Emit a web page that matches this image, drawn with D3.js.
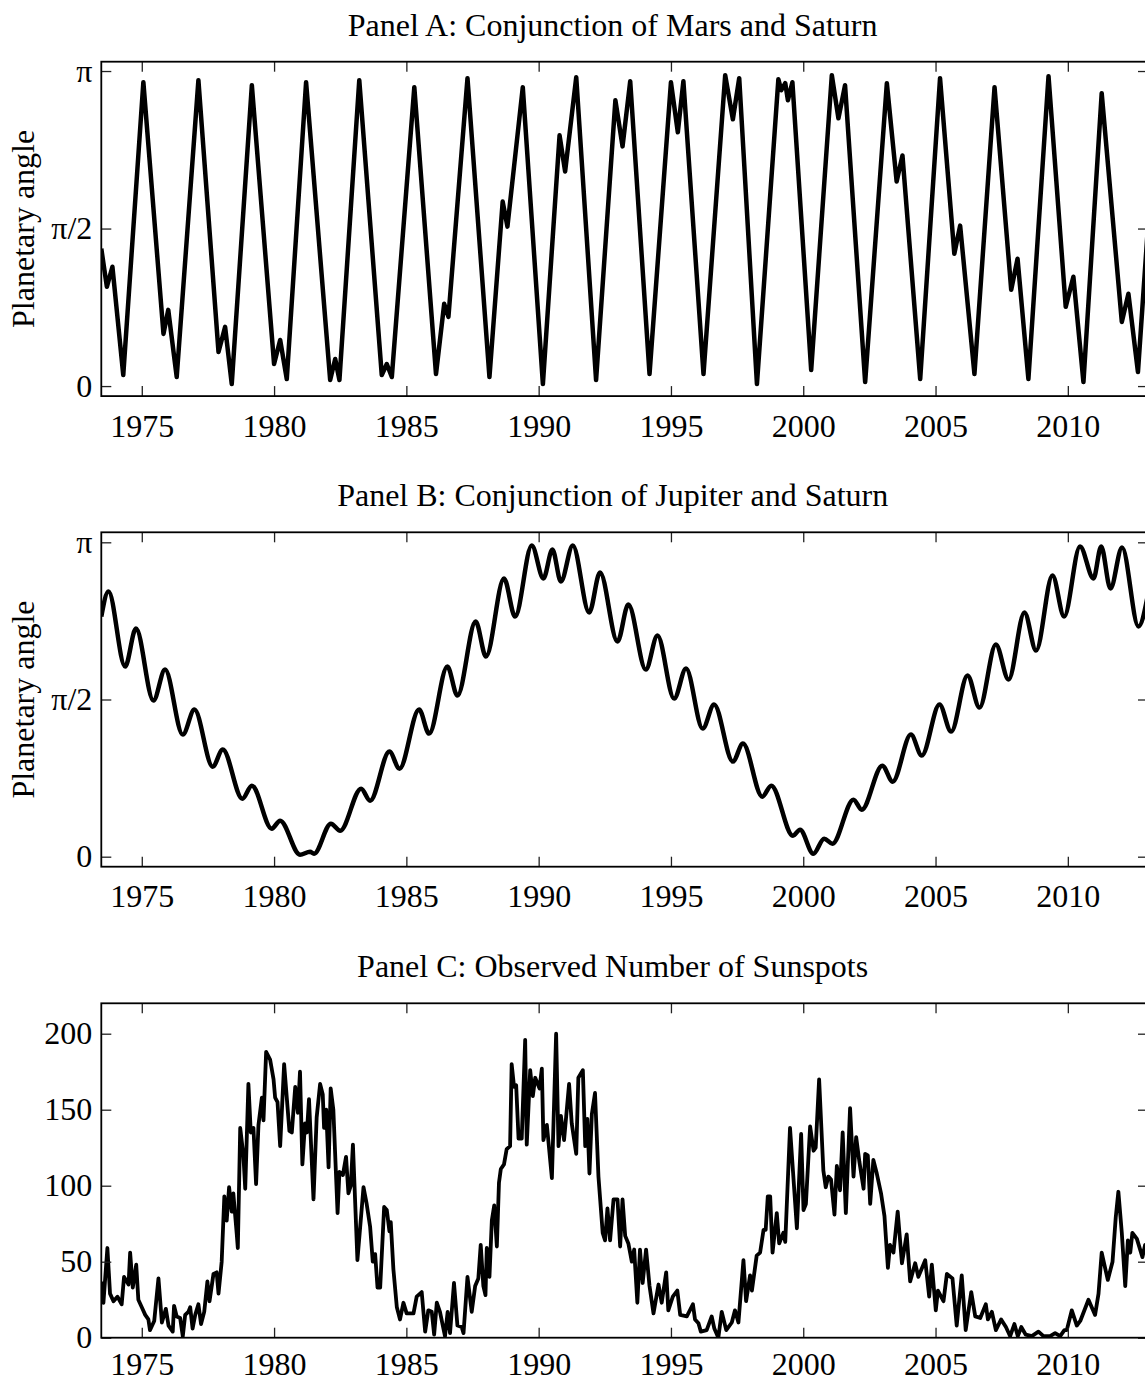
<!DOCTYPE html>
<html>
<head>
<meta charset="utf-8">
<script src="https://cdn.jsdelivr.net/npm/d3@7"></script>
<style>
  body { margin: 0; background: #fff; }
  svg { display: block; font-family: "Liberation Serif", "Times New Roman", serif; }
  .axis text { font-size: 32px; fill: #000; }
  .axis line { stroke: #222; stroke-width: 1.3; }
  .title, .ylabel { font-size: 32px; fill: #000; }
</style>
</head>
<body>
<svg></svg>
<script>
const width = 1145;
const height = 1383;

// ticks / labels
const yearTicks = [1975, 1980, 1985, 1990, 1995, 2000, 2005, 2010];
const angleTicks = [0, Math.PI / 2, Math.PI];
const angleTickLabels = ['0', 'π/2', 'π'];
const sunspotTicks = [0, 50, 100, 150, 200];
const panelTitles = [
  'Panel A: Conjunction of Mars and Saturn',
  'Panel B: Conjunction of Jupiter and Saturn',
  'Panel C: Observed Number of Sunspots'
];
const angleTitle = 'Planetary angle';

// [year, angle in radians]
const marsSaturn = [
  [1973.47, 1.37], [1973.68, 0.99], [1973.89, 1.19], [1974.30, 0.11], [1975.06, 3.03],
  [1975.82, 0.52], [1976.00, 0.76], [1976.32, 0.09], [1977.14, 3.05], [1977.90, 0.34],
  [1978.15, 0.59], [1978.40, 0.02], [1979.16, 3.00], [1980.00, 0.22], [1980.23, 0.46],
  [1980.48, 0.07], [1981.21, 3.03], [1982.12, 0.06], [1982.31, 0.27], [1982.47, 0.06],
  [1983.22, 3.05], [1984.07, 0.11], [1984.26, 0.22], [1984.45, 0.09], [1985.30, 2.98],
  [1986.12, 0.12], [1986.43, 0.82], [1986.59, 0.69], [1987.31, 3.07], [1988.14, 0.09],
  [1988.64, 1.84], [1988.82, 1.59], [1989.40, 2.98], [1990.16, 0.02], [1990.79, 2.50],
  [1991.00, 2.14], [1991.42, 3.08], [1992.17, 0.06], [1992.90, 2.85], [1993.17, 2.39],
  [1993.46, 3.04], [1994.19, 0.12], [1995.00, 3.03], [1995.26, 2.53], [1995.47, 3.04],
  [1996.23, 0.12], [1997.05, 3.10], [1997.34, 2.66], [1997.58, 3.07], [1998.25, 0.02],
  [1999.06, 3.06], [1999.17, 2.95], [1999.32, 3.02], [1999.42, 2.85], [1999.59, 3.03],
  [2000.30, 0.16], [2001.08, 3.10], [2001.33, 2.67], [2001.58, 3.00], [2002.34, 0.04],
  [2003.16, 3.02], [2003.53, 2.04], [2003.75, 2.30], [2004.42, 0.07], [2005.17, 3.07],
  [2005.71, 1.32], [2005.93, 1.60], [2006.47, 0.12], [2007.23, 2.98], [2007.86, 0.96],
  [2008.10, 1.27], [2008.51, 0.07], [2009.27, 3.09], [2009.92, 0.79], [2010.21, 1.09],
  [2010.59, 0.04], [2011.28, 2.92], [2012.04, 0.64], [2012.29, 0.92], [2012.65, 0.14],
  [2013.03, 1.60]
];

// local maxima / minima of the Jupiter-Saturn angle
const jupiterSaturn = [
  [1973.47, 2.40], [1973.74, 2.65], [1974.37, 1.90], [1974.78, 2.28], [1975.44, 1.56],
  [1975.88, 1.87], [1976.55, 1.22], [1976.99, 1.47], [1977.68, 0.90], [1978.06, 1.07],
  [1978.80, 0.58], [1979.16, 0.71], [1979.91, 0.28], [1980.23, 0.36], [1980.98, 0.02],
  [1981.36, 0.05], [1981.51, 0.03], [1982.15, 0.33], [1982.50, 0.26], [1983.29, 0.68],
  [1983.63, 0.56], [1984.36, 1.05], [1984.74, 0.88], [1985.48, 1.47], [1985.86, 1.23],
  [1986.55, 1.90], [1986.93, 1.61], [1987.62, 2.35], [1988.01, 2.00], [1988.69, 2.78],
  [1989.11, 2.40], [1989.74, 3.11], [1990.18, 2.78], [1990.52, 3.07], [1990.84, 2.75],
  [1991.29, 3.11], [1991.91, 2.44], [1992.32, 2.84], [1992.98, 2.15], [1993.39, 2.52],
  [1994.05, 1.87], [1994.49, 2.21], [1995.12, 1.58], [1995.57, 1.88], [1996.20, 1.28],
  [1996.63, 1.52], [1997.34, 0.95], [1997.72, 1.13], [1998.45, 0.60], [1998.79, 0.71],
  [1999.61, 0.21], [1999.88, 0.27], [2000.38, 0.03], [2000.79, 0.18], [2001.10, 0.13],
  [2001.90, 0.57], [2002.21, 0.47], [2002.99, 0.91], [2003.38, 0.75], [2004.07, 1.22],
  [2004.48, 1.01], [2005.15, 1.52], [2005.59, 1.25], [2006.21, 1.81], [2006.66, 1.49],
  [2007.28, 2.12], [2007.76, 1.77], [2008.36, 2.44], [2008.80, 2.06], [2009.42, 2.81],
  [2009.86, 2.40], [2010.46, 3.10], [2010.97, 2.78], [2011.26, 3.10], [2011.61, 2.68],
  [2012.05, 3.09], [2012.67, 2.30], [2013.03, 2.62]
];

// [year, sunspot number]
const sunspots = [
  [1973.49, 37], [1973.55, 23], [1973.70, 59], [1973.80, 29], [1973.93, 24], [1974.08, 27],
  [1974.24, 22], [1974.33, 40], [1974.50, 35], [1974.56, 56], [1974.66, 33], [1974.79, 48],
  [1974.87, 25], [1975.00, 20], [1975.13, 15], [1975.25, 12], [1975.31, 5], [1975.47, 11],
  [1975.63, 39], [1975.76, 10], [1975.91, 19], [1976.01, 8], [1976.17, 4], [1976.22, 21],
  [1976.32, 14], [1976.45, 13], [1976.55, 1], [1976.64, 15], [1976.76, 17], [1976.83, 20],
  [1976.92, 6], [1977.02, 15], [1977.14, 22], [1977.24, 9], [1977.36, 17], [1977.48, 37],
  [1977.56, 24], [1977.71, 42], [1977.83, 43], [1977.90, 29], [1978.02, 50], [1978.12, 93],
  [1978.21, 77], [1978.30, 99], [1978.40, 83], [1978.46, 95], [1978.59, 68], [1978.63, 59],
  [1978.72, 138], [1978.84, 120], [1978.91, 98], [1979.03, 167], [1979.12, 135], [1979.22, 138],
  [1979.32, 101], [1979.41, 140], [1979.54, 158], [1979.60, 143], [1979.70, 188], [1979.85, 183],
  [1979.98, 170], [1980.04, 158], [1980.13, 155], [1980.23, 126], [1980.38, 180], [1980.58, 136],
  [1980.67, 135], [1980.80, 165], [1980.90, 148], [1980.98, 175], [1981.07, 114], [1981.17, 141],
  [1981.24, 135], [1981.32, 157], [1981.49, 91], [1981.61, 145], [1981.74, 167], [1981.84, 160],
  [1981.89, 138], [1981.97, 150], [1982.06, 112], [1982.14, 164], [1982.24, 150], [1982.40, 82],
  [1982.47, 109], [1982.60, 107], [1982.72, 119], [1982.81, 95], [1982.90, 100], [1982.98, 127],
  [1983.15, 51], [1983.38, 99], [1983.50, 88], [1983.63, 73], [1983.73, 50], [1983.82, 55],
  [1983.91, 33], [1984.01, 33], [1984.16, 86], [1984.26, 84], [1984.36, 70], [1984.41, 76],
  [1984.51, 45], [1984.64, 20], [1984.76, 12], [1984.89, 23], [1985.01, 16], [1985.27, 16],
  [1985.39, 27], [1985.58, 30], [1985.71, 4], [1985.83, 18], [1985.96, 17], [1986.05, 2],
  [1986.15, 23], [1986.27, 17], [1986.46, 1], [1986.56, 17], [1986.65, 3], [1986.80, 36],
  [1986.93, 8], [1987.09, 7], [1987.16, 3], [1987.31, 40], [1987.47, 17], [1987.60, 34],
  [1987.72, 39], [1987.81, 61], [1987.91, 34], [1987.99, 28], [1988.04, 59], [1988.14, 40],
  [1988.23, 77], [1988.32, 87], [1988.42, 60], [1988.50, 102], [1988.57, 111], [1988.69, 114],
  [1988.79, 124], [1988.92, 126], [1988.98, 180], [1989.07, 165], [1989.15, 166], [1989.24, 131],
  [1989.36, 131], [1989.49, 196], [1989.55, 127], [1989.68, 176], [1989.78, 159], [1989.87, 171],
  [1990.03, 164], [1990.12, 177], [1990.18, 130], [1990.31, 140], [1990.50, 105], [1990.66, 200],
  [1990.75, 126], [1990.84, 146], [1990.96, 130], [1991.15, 167], [1991.25, 141], [1991.42, 121],
  [1991.50, 171], [1991.67, 176], [1991.76, 126], [1991.84, 144], [1991.92, 108], [1992.01, 147],
  [1992.13, 161], [1992.26, 106], [1992.42, 69], [1992.51, 64], [1992.60, 85], [1992.70, 64],
  [1992.83, 91], [1992.98, 91], [1993.08, 60], [1993.17, 91], [1993.27, 67], [1993.39, 62],
  [1993.52, 50], [1993.61, 58], [1993.73, 23], [1993.83, 58], [1993.93, 36], [1994.06, 58],
  [1994.19, 34], [1994.34, 16], [1994.53, 35], [1994.65, 23], [1994.82, 43], [1994.90, 18],
  [1995.07, 27], [1995.24, 31], [1995.35, 15], [1995.60, 14], [1995.83, 22], [1995.91, 12],
  [1996.04, 9.5], [1996.13, 4], [1996.35, 5], [1996.54, 14], [1996.64, 6], [1996.79, 0],
  [1996.92, 17], [1997.09, 5], [1997.30, 10], [1997.42, 18], [1997.55, 10], [1997.74, 51],
  [1997.84, 24], [1997.99, 41], [1998.06, 31], [1998.24, 54], [1998.37, 56], [1998.50, 71],
  [1998.58, 71], [1998.66, 93], [1998.75, 93], [1998.84, 56], [1999.00, 82], [1999.09, 62],
  [1999.25, 69], [1999.32, 63], [1999.50, 138], [1999.76, 72], [1999.92, 134], [2000.01, 84],
  [2000.10, 88], [2000.26, 139], [2000.39, 123], [2000.47, 125], [2000.60, 170], [2000.76, 110],
  [2000.85, 99], [2000.95, 106], [2001.05, 104], [2001.18, 81], [2001.27, 113], [2001.39, 97],
  [2001.49, 135], [2001.61, 82], [2001.77, 151], [2001.90, 106], [2002.00, 132], [2002.12, 116],
  [2002.28, 98], [2002.34, 121], [2002.44, 120], [2002.53, 88], [2002.65, 117], [2002.78, 108],
  [2002.94, 95], [2003.07, 80], [2003.20, 46], [2003.28, 61], [2003.41, 56], [2003.57, 83],
  [2003.73, 49], [2003.91, 68], [2004.04, 37], [2004.23, 49], [2004.35, 40], [2004.61, 51],
  [2004.76, 27], [2004.86, 48], [2005.01, 18], [2005.09, 31], [2005.30, 24], [2005.43, 42],
  [2005.64, 39], [2005.80, 8], [2005.99, 41], [2006.14, 5], [2006.35, 30], [2006.50, 14],
  [2006.69, 13], [2006.90, 22], [2006.98, 12], [2007.13, 17], [2007.28, 5], [2007.48, 12],
  [2007.66, 7], [2007.82, 1], [2007.98, 9], [2008.11, 1], [2008.24, 7], [2008.41, 2],
  [2008.64, 1], [2008.89, 4], [2009.08, 1], [2009.33, 1], [2009.52, 3], [2009.71, 1],
  [2009.87, 5], [2009.96, 5], [2010.15, 18], [2010.34, 8], [2010.47, 11], [2010.78, 25],
  [2011.03, 15], [2011.16, 29], [2011.28, 56], [2011.51, 38], [2011.69, 50], [2011.81, 79],
  [2011.91, 96], [2012.04, 69], [2012.17, 34], [2012.27, 64], [2012.36, 56], [2012.44, 69],
  [2012.61, 65], [2012.82, 53], [2012.92, 61], [2013.05, 58]
];

const plotLeft = 101.3;
const plotRight = 1148;
const plotHeight = 334.4;
const panelTops = [61.7, 532.3, 1003.3];

const svg = d3.select('svg')
  .attr('width', width)
  .attr('height', height);

svg.append('rect')
  .attr('width', width)
  .attr('height', height)
  .attr('fill', '#fff');

const x = d3.scaleLinear()
  .domain([1973.47, 2013.03])
  .range([plotLeft, plotRight]);

function drawPanel(i, data, yDomain, yTicks, yTickLabels, yTitle, curve, lineWidth, labelPad) {
  const top = panelTops[i];
  const bottom = top + plotHeight;
  const y = d3.scaleLinear().domain(yDomain).range([bottom, top]);

  const g = svg.append('g');

  g.append('clipPath')
    .attr('id', 'clip' + i)
    .append('rect')
    .attr('x', plotLeft)
    .attr('y', top)
    .attr('width', plotRight - plotLeft)
    .attr('height', plotHeight);

  const line = d3.line()
    .x((d) => x(d[0]))
    .y((d) => y(d[1]))
    .curve(curve);

  g.append('path')
    .datum(data)
    .attr('clip-path', `url(#clip${i})`)
    .attr('fill', 'none')
    .attr('stroke', '#000')
    .attr('stroke-width', lineWidth)
    .attr('stroke-linejoin', 'round')
    .attr('d', line);

  const bottomAxis = g.append('g')
    .attr('class', 'axis')
    .attr('transform', `translate(0,${bottom})`)
    .call(d3.axisBottom(x).tickValues(yearTicks).tickFormat(d3.format('d'))
      .tickSizeInner(-10).tickSizeOuter(0).tickPadding(labelPad));

  const topAxis = g.append('g')
    .attr('class', 'axis')
    .attr('transform', `translate(0,${top})`)
    .call(d3.axisTop(x).tickValues(yearTicks).tickFormat('')
      .tickSizeInner(-10).tickSizeOuter(0));

  const leftAxis = g.append('g')
    .attr('class', 'axis')
    .attr('transform', `translate(${plotLeft},0)`)
    .call(d3.axisLeft(y).tickValues(yTicks).tickFormat((d, k) => yTickLabels[k])
      .tickSizeInner(-10).tickSizeOuter(0).tickPadding(9));

  const rightAxis = g.append('g')
    .attr('class', 'axis')
    .attr('transform', `translate(${plotRight},0)`)
    .call(d3.axisRight(y).tickValues(yTicks).tickFormat('')
      .tickSizeInner(-10).tickSizeOuter(0));

  [bottomAxis, topAxis, leftAxis, rightAxis].forEach((a) => {
    a.attr('font-size', null).attr('font-family', null);
    a.select('.domain').remove();
  });

  g.append('rect')
    .attr('x', plotLeft)
    .attr('y', top)
    .attr('width', plotRight - plotLeft)
    .attr('height', plotHeight)
    .attr('fill', 'none')
    .attr('stroke', '#000')
    .attr('stroke-width', 1.8);

  g.append('text')
    .attr('class', 'title')
    .attr('x', (plotLeft + plotRight) / 2 - 12)
    .attr('y', top - 26)
    .attr('text-anchor', 'middle')
    .text(panelTitles[i]);

  if (yTitle) {
    g.append('text')
      .attr('class', 'ylabel')
      .attr('transform', `translate(34,${(top + bottom) / 2}) rotate(-90)`)
      .attr('text-anchor', 'middle')
      .text(yTitle);
  }
}

drawPanel(0, marsSaturn, [-0.1, Math.PI + 0.093], angleTicks, angleTickLabels, angleTitle, d3.curveLinear, 4.5, 18);
drawPanel(1, jupiterSaturn, [-0.1, Math.PI + 0.1], angleTicks, angleTickLabels, angleTitle, d3.curveMonotoneX, 4.5, 18);
drawPanel(2, sunspots, [0, 220], sunspotTicks, sunspotTicks.map(String), null, d3.curveLinear, 3.8, 15);
</script>
</body>
</html>
